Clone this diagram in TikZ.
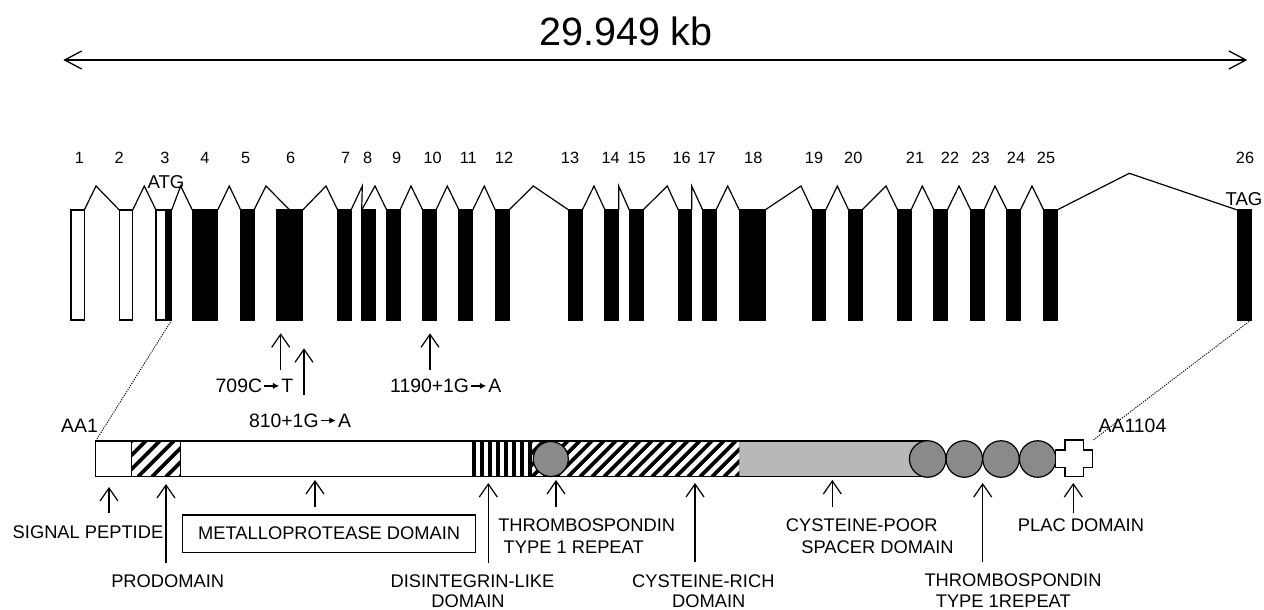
\documentclass[tikz,border=0pt]{standalone}
\usepackage{fontspec}
\setmainfont{Liberation Sans}
\usetikzlibrary{arrows.meta}
\definecolor{spacergray}{RGB}{184,184,184}
\definecolor{tsrgray}{RGB}{138,138,138}
\tikzset{
  exonW/.style={draw=black, fill=white, line width=1.2pt, inner sep=0pt, outer sep=0pt, minimum height=110pt},
  exonB/.style={exonW, fill=black},
  intron/.style={line width=1.2pt, line join=miter},
  num/.style={font=\fontsize{16.3}{18}\selectfont, anchor=base, inner sep=0pt},
  codon/.style={font=\fontsize{18.6}{20}\selectfont, anchor=base, inner sep=0pt},
  mut/.style={font=\fontsize{19.4}{22}\selectfont, anchor=base, inner sep=0pt},
  lab/.style={font=\fontsize{18.3}{21}\selectfont, anchor=base, inner sep=0pt},
  ptr/.style={-{Straight Barb[length=13pt,width=18pt]}, line width=1.2pt},
  bigptr/.style={{Straight Barb[length=17pt,width=18pt]}-{Straight Barb[length=17pt,width=18pt]}, line width=1.3pt},
  seg/.style={inner sep=0pt, outer sep=0pt, minimum height=35.7pt},
  dom/.style={circle, draw=black, fill=tsrgray, line width=1.2pt, inner sep=0pt, minimum size=36.5pt},
  dotline/.style={line width=0.9pt, dash pattern=on 1.2pt off 1.2pt},
  hatch/.style={line width=3.6pt, line cap=butt}
}
\newcommand\mkexon[4]{\node[#1, minimum width={(#3-#2)*1pt}] (#4) at ({(#2+#3)/2},265) {};}
\newcommand\mutarr{\hspace{1.5pt}\tikz[baseline=0pt]\draw[line width=1.4pt,-{Latex[length=6.5pt,width=6.5pt]}] (0pt,6.8pt) -- (15pt,6.8pt);\hspace{1.5pt}}
\begin{document}
\begin{tikzpicture}[x=1pt,y=-1pt]
\useasboundingbox (0,0) rectangle (1264,610);
\fill[white] (0,0) rectangle (1264,610);

% title and scale arrow
\node[font=\fontsize{39.5}{44}\selectfont, anchor=base, inner sep=0pt] (title) at (626,45.7) {29.949 kb};
\coordinate (scaleL) at (63.3,60);
\coordinate (scaleR) at (1247.3,60);
\draw[bigptr] (scaleL) -- (scaleR);

% exons
\mkexon{exonW}{71}{84.3}{e1}
\mkexon{exonW}{119.3}{132.7}{e2}
\mkexon{exonW}{156}{166}{e3}
\mkexon{exonB}{166}{171.7}{e3b}
\mkexon{exonB}{192.3}{217.7}{e4}
\mkexon{exonB}{240.7}{254}{e5}
\mkexon{exonB}{276.7}{302.7}{e6}
\mkexon{exonB}{337.7}{351}{e7}
\mkexon{exonB}{361.7}{375.3}{e8}
\mkexon{exonB}{386.7}{400}{e9}
\mkexon{exonB}{422.7}{436}{e10}
\mkexon{exonB}{459}{472.7}{e11}
\mkexon{exonB}{495.3}{509}{e12}
\mkexon{exonB}{568.7}{582.3}{e13}
\mkexon{exonB}{605}{618.7}{e14}
\mkexon{exonB}{629.3}{643}{e15}
\mkexon{exonB}{678.3}{691.7}{e16}
\mkexon{exonB}{702.7}{716}{e17}
\mkexon{exonB}{739.3}{765}{e18}
\mkexon{exonB}{812.3}{825.7}{e19}
\mkexon{exonB}{848.7}{862}{e20}
\mkexon{exonB}{897.7}{911}{e21}
\mkexon{exonB}{934}{947.3}{e22}
\mkexon{exonB}{970.7}{984}{e23}
\mkexon{exonB}{1007}{1020.3}{e24}
\mkexon{exonB}{1043.7}{1057}{e25}
\mkexon{exonB}{1237.3}{1251}{e26}

% introns
\coordinate (i1) at (96,186);
\coordinate (i2) at (144.3,186);
\coordinate (i3) at (180.7,186);
\coordinate (i4) at (229.3,186);
\coordinate (i5) at (266,186);
\coordinate (i6) at (326,186);
\coordinate (i7) at (362.3,186);
\coordinate (i8) at (375,186);
\coordinate (i9) at (411,186);
\coordinate (i10) at (447.3,186);
\coordinate (i11) at (484.3,186);
\coordinate (i12) at (533.3,186);
\coordinate (i13) at (594,186);
\coordinate (i14) at (618.7,186);
\coordinate (i15) at (667.3,186);
\coordinate (i16) at (691.7,186);
\coordinate (i17) at (727.7,186);
\coordinate (i18) at (801,186);
\coordinate (i19) at (837.3,186);
\coordinate (i20) at (886,186);
\coordinate (i21) at (922.3,186);
\coordinate (i22) at (959,186);
\coordinate (i23) at (995,186);
\coordinate (i24) at (1032,186);
\coordinate (i25) at (1129.3,173.3);
\draw[intron] (e1.north east) -- (i1) -- (e2.north west);
\draw[intron] (e2.north east) -- (i2) -- (e3.north west);
\draw[intron] (e3b.north east) -- (i3) -- (e4.north west);
\draw[intron] (e4.north east) -- (i4) -- (e5.north west);
\draw[intron] (e5.north east) -- (i5) -- (e6.north);
\draw[intron] (e6.north east) -- (i6) -- (e7.north west);
\draw[intron] (e7.north east) -- (i7) -- (e8.north west);
\draw[intron] (e8.north west) -- (i8) -- (e9.north west);
\draw[intron] (e9.north east) -- (i9) -- (e10.north west);
\draw[intron] (e10.north east) -- (i10) -- (e11.north west);
\draw[intron] (e11.north east) -- (i11) -- (e12.north west);
\draw[intron] (e12.north east) -- (i12) -- (e13.north west);
\draw[intron] (e13.north east) -- (i13) -- (e14.north west);
\draw[intron] (e14.north east) -- (i14) -- (e15.north west);
\draw[intron] (e15.north east) -- (i15) -- (e16.north west);
\draw[intron] (e16.north east) -- (i16) -- (e17.north west);
\draw[intron] (e17.north east) -- (i17) -- (e18.north west);
\draw[intron] (e18.north east) -- (i18) -- (e19.north west);
\draw[intron] (e19.north east) -- (i19) -- (e20.north west);
\draw[intron] (e20.north east) -- (i20) -- (e21.north west);
\draw[intron] (e21.north east) -- (i21) -- (e22.north west);
\draw[intron] (e22.north east) -- (i22) -- (e23.north west);
\draw[intron] (e23.north east) -- (i23) -- (e24.north west);
\draw[intron] (e24.north east) -- (i24) -- (e25.north west);
\draw[intron] (e25.north east) -- (i25) -- (e26.north west);

% exon numbers
\foreach \n/\x in {1/79.3,2/119.2,3/165,4/205,5/245.7,6/290.7,7/345.7,8/367.7,9/396.7,10/432.7,
  11/468.3,12/504,13/570,14/610.7,15/636.7,16/681.7,17/706.7,18/753.3,19/814,20/853.3,
  21/915,22/950,23/980.7,24/1016,25/1046,26/1245}
  \node[num] (n\n) at (\x,163.3) {\n};
\node[codon] (atg) at (166,188.3) {ATG};
\node[codon] (tag) at (1244,205) {TAG};

% mutations
\node[mut] (m709) at (254.5,392.7) {709C\mutarr T};
\node[mut] (m810) at (300,427.3) {810+1G\mutarr A};
\node[mut] (m1190) at (445.8,392.7) {1190+1G\mutarr A};
\coordinate (m709a) at (280.7,370);   \coordinate (m709b) at (280.7,333.3);
\coordinate (m810a) at (304,395);     \coordinate (m810b) at (304,348.3);
\coordinate (m1190a) at (430,370);    \coordinate (m1190b) at (430,333.3);
\draw[ptr] (m709a) -- (m709b);
\draw[ptr] (m810a) -- (m810b);
\draw[ptr] (m1190a) -- (m1190b);

% protein bar segments
\node[seg, fill=white, minimum width=36pt] (sig) at (113.7,458.85) {};
\node[seg, fill=white, minimum width=49pt] (pro) at (156.2,458.85) {};
\node[seg, fill=white, minimum width=290.3pt] (met) at (325.85,458.85) {};
\node[seg, fill=white, minimum width=59pt] (dis) at (500.5,458.85) {};
\node[seg, fill=white, minimum width=209.3pt] (cys) at (634.65,458.85) {};
\node[seg, fill=spacergray, minimum width=188.4pt] (spa) at (833.5,458.85) {};

\begin{scope}
  \clip (pro.south west) rectangle (pro.north east);
  \foreach \x in {96,110,...,180} \draw[hatch] (\x,476.7) -- ++(35.7,-35.7);
\end{scope}
\begin{scope}
  \clip (cys.south west) rectangle (cys.north east);
  \foreach \x in {496,508,...,740} \draw[hatch] (\x,476.7) -- ++(35.7,-35.7);
\end{scope}
\foreach \x in {472,480,...,528} \fill[black] (\x,441) rectangle ({\x+3.6},476.7);

\draw[line width=1.2pt] (spa.north east) -- (sig.north west) -- (sig.south west) -- (spa.south east);
\draw[line width=1.2pt] (pro.north west) -- (pro.south west) (pro.north east) -- (pro.south east);

% domains
\node[dom, minimum size=35pt] (tsr0) at (550.8,459) {};
\node[dom] (tsr1) at (927.7,459) {};
\node[dom] (tsr2) at (964.3,459) {};
\node[dom] (tsr3) at (1001,459) {};
\node[dom] (tsr4) at (1037.7,459) {};
\draw[line width=1.2pt, fill=white] (1065,440) -- (1083.3,440) -- (1083.3,450) -- (1092.7,450) -- (1092.7,467.7)
  -- (1083.3,467.7) -- (1083.3,476.7) -- (1065,476.7) -- (1065,467.7) -- (1055.7,467.7) -- (1055.7,450) -- (1065,450) -- cycle;
\coordinate (barend) at (1093.3,440);

% zoom lines
\draw[dotline] (e3b.south east) -- (sig.north west);
\draw[dotline] (e26.south east) -- (barend);
\node[mut] (aa1) at (79.5,432.7) {AA1};
\node[mut] (aa1104) at (1132.5,432.7) {AA1104};

% metalloprotease box
\node[draw, line width=1.2pt, inner sep=0pt, minimum width=293pt, minimum height=37.3pt,
  font=\fontsize{18.3}{21}\selectfont] (metbox) at (329.2,533.65) {METALLOPROTEASE DOMAIN};

% labels
\node[lab] (lsig) at (88,538.3) {SIGNAL PEPTIDE};
\node[lab] (lpro) at (167.7,587.5) {PRODOMAIN};
\node[lab] (ldis1) at (472.5,587) {DISINTEGRIN-LIKE};
\node[lab] (ldis2) at (468,607.5) {DOMAIN};
\node[lab] (ltsr1) at (586.7,531.7) {THROMBOSPONDIN};
\node[lab] (ltsr2) at (573.7,553.3) {TYPE 1 REPEAT};
\node[lab] (lcys1) at (703.3,587) {CYSTEINE-RICH};
\node[lab] (lcys2) at (708.7,607.5) {DOMAIN};
\node[lab] (lspa1) at (861.7,531.7) {CYSTEINE-POOR};
\node[lab] (lspa2) at (877.5,553.3) {SPACER DOMAIN};
\node[lab] (ltsrb1) at (1013,586) {THROMBOSPONDIN};
\node[lab] (ltsrb2) at (1003.3,607.5) {TYPE 1REPEAT};
\node[lab] (lplac) at (1081,531.7) {PLAC DOMAIN};

% pointers to domains
\coordinate (pSig) at (109,513);    \coordinate (tSig) at (109,487);
\coordinate (pPro) at (166,563.3);  \coordinate (tPro) at (166,484);
\coordinate (pMet) at (315,506.7);  \coordinate (tMet) at (315,480);
\coordinate (pDis) at (488.3,563.3);\coordinate (tDis) at (488.3,483);
\coordinate (pTsr) at (556,506.7);  \coordinate (tTsr) at (556,480);
\coordinate (pCys) at (695,561.7);  \coordinate (tCys) at (695,483);
\coordinate (pSpa) at (832.3,506.7);\coordinate (tSpa) at (832.3,480);
\coordinate (pTsb) at (982.7,561.7);\coordinate (tTsb) at (982.7,483);
\coordinate (pPlac) at (1073.3,513.3);\coordinate (tPlac) at (1073.3,483);
\draw[ptr] (pSig) -- (tSig);
\draw[ptr] (pPro) -- (tPro);
\draw[ptr] (pMet) -- (tMet);
\draw[ptr] (pDis) -- (tDis);
\draw[ptr] (pTsr) -- (tTsr);
\draw[ptr] (pCys) -- (tCys);
\draw[ptr] (pSpa) -- (tSpa);
\draw[ptr] (pTsb) -- (tTsb);
\draw[ptr] (pPlac) -- (tPlac);
\end{tikzpicture}
\end{document}
